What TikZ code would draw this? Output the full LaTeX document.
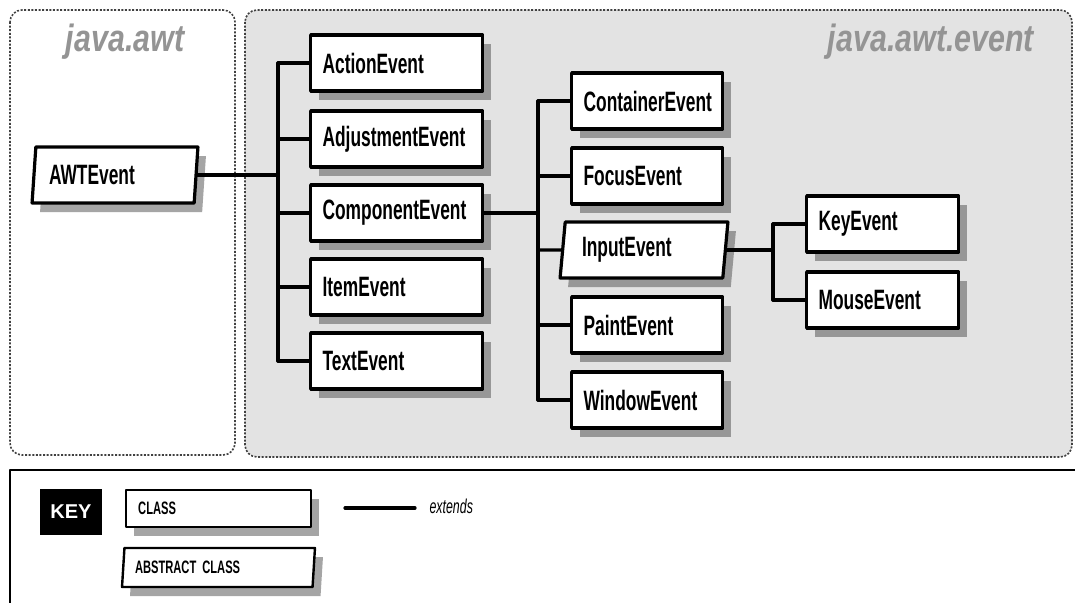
\documentclass[tikz,border=0pt]{standalone}
\usepackage{fontspec}
\setmainfont{Liberation Sans}
\newfontfamily\condfont{Liberation Sans}[FakeStretch=0.62]
\newfontfamily\pkgfont{Liberation Sans}[FakeStretch=0.8]
\usetikzlibrary{shapes.geometric,shadows}
\definecolor{pkggray}{gray}{0.89}
\definecolor{pkgtext}{gray}{0.58}

\begin{document}
\begin{tikzpicture}[
			x=1pt, y=-1pt,
			line cap=round,
			line join=round,
			boxshadow/.style={drop shadow={shadow xshift=8pt, shadow yshift=-9pt, fill=black!70, opacity=0.5}},
			clsbox/.style={draw, rectangle, anchor=west, line width=3.2pt, fill=white, boxshadow,
				font=\condfont\bfseries\fontsize{28}{30}\selectfont,
				inner xsep=12pt, inner ysep=0pt, minimum height=56pt, text width=#1, align=left},
			clsbox/.default=148pt,
			absbox/.style={clsbox=#1, shape=trapezium, anchor=center, trapezium left angle=80,
				trapezium right angle=100, trapezium stretches=true, inner xsep=6pt},
			pkgbox/.style={draw=black!75, line cap=butt, dash pattern=on 2pt off 1.6pt, line width=1.6pt, rounded corners=12pt},
			pkglabel/.style={font=\pkgfont\bfseries\itshape\fontsize{38}{40}\selectfont, text=pkgtext},
			extline/.style={line width=3.2pt}
			]
			\useasboundingbox (0,0) rectangle (1075,602);
			
			% packages
			\draw[pkgbox, fill=white] (10,10) rectangle (235,455);
			\draw[pkgbox, fill=pkggray] (245,10) rectangle (1072,457);
			\node[pkglabel] (awtlbl) at (125,42) {java.awt};
			\node[pkglabel] (eventlbl) at (931,42) {java.awt.event};
			
			\node[absbox=132pt, minimum width=166pt, minimum height=56pt] (awtevent) at (115,175) {AWTEvent};
			
			\node[clsbox] (action) at (309,63) {ActionEvent};
			\node[clsbox] (adjust) at (309,139) {AdjustmentEvent};
			\node[clsbox] (component) at (309,213) {ComponentEvent};
			\node[clsbox] (item) at (309,287) {ItemEvent};
			\node[clsbox] (textev) at (309,361) {TextEvent};
			
			\node[clsbox=127pt] (container) at (570,101) {ContainerEvent};
			\node[clsbox=127pt] (focus) at (570,176) {FocusEvent};
			\node[absbox=124pt, minimum width=168pt, minimum height=56pt] (input) at (644,250) {InputEvent};
			\node[clsbox=127pt] (paint) at (570,325) {PaintEvent};
			\node[clsbox=127pt] (window) at (570,400) {WindowEvent};
			
			\node[clsbox=128pt] (key) at (805,224) {KeyEvent};
			\node[clsbox=128pt] (mouse) at (805,300) {MouseEvent};
			
			% extends lines
			\coordinate (trunkA) at (278,0);
			\coordinate (trunkB) at (538,0);
			\coordinate (trunkC) at (773,0);
			\draw[extline] (awtevent.east) -- (awtevent.east -| trunkA);
			\draw[extline] (trunkA |- action) -- (trunkA |- textev);
			\foreach \n in {action,adjust,component,item,textev}
				\draw[extline] (trunkA |- \n) -- (\n.west);
			\draw[extline] (component.east) -- (component.east -| trunkB);
			\draw[extline] (trunkB |- container) -- (trunkB |- window);
			\foreach \n in {container,focus,input,paint,window}
				\draw[extline] (trunkB |- \n) -- (\n.west);
			\draw[extline] (input.east) -- (input.east -| trunkC);
			\draw[extline] (trunkC |- key) -- (trunkC |- mouse);
			\foreach \n in {key,mouse}
				\draw[extline] (trunkC |- \n) -- (\n.west);
			
			% key
			\draw[line width=2.4pt] (10,470) rectangle (1090,620);
			\node[fill=black, text=white, font=\bfseries\fontsize{20}{22}\selectfont,
				minimum width=62pt, minimum height=46pt] (keytag) at (71,512) {KEY};
			\node[clsbox=161pt, line width=2.4pt, minimum height=37pt,
				font=\condfont\bfseries\fontsize{18}{20}\selectfont] (clskey) at (125,508.5) {CLASS};
			\node[absbox=167pt, line width=2.4pt, minimum width=193pt, minimum height=39pt, inner xsep=4pt,
				font=\condfont\bfseries\fontsize{18}{20}\selectfont] (abskey) at (218.5,567.5) {ABSTRACT CLASS};
			\coordinate (extA) at (345,508);
			\coordinate (extB) at (415,508);
			\draw[extline] (extA) -- (extB);
			\node[anchor=west, font=\condfont\itshape\fontsize{20}{22}\selectfont] (extlbl) at (426,506) {extends};
		\end{tikzpicture}
\end{document}
